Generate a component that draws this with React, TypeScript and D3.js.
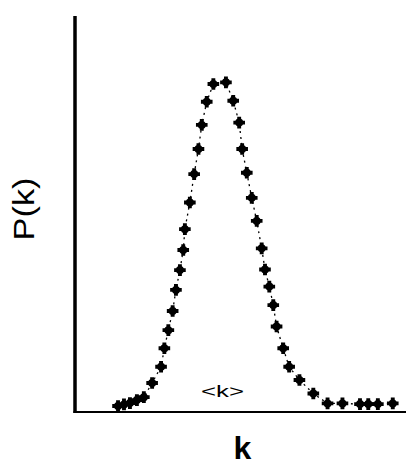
import { useEffect, useRef } from 'react';
import * as d3 from 'd3';

// k values (arbitrary units, axis runs 0..100)
const kValues = [
  13.0, 14.8, 16.6, 18.7, 20.8, 23.3, 26.0, 27.0, 28.2, 29.5, 30.5, 31.7, 32.7,
  33.2, 34.7, 36.0, 37.3, 38.3, 39.8, 41.8, 45.6, 47.8, 49.6, 50.5, 51.9, 53.4,
  54.9, 56.4, 57.4, 58.7, 59.9, 60.9, 62.9, 64.7, 67.8, 72.0, 76.3, 80.8, 86.1,
  88.6, 91.5, 96.0,
];

// P(k) values (normalised so the peak is ~1)
const pValues = [
  0.018, 0.023, 0.027, 0.036, 0.045, 0.088, 0.137, 0.193, 0.248, 0.306, 0.37,
  0.43, 0.491, 0.554, 0.635, 0.721, 0.797, 0.87, 0.94, 0.994, 0.999, 0.943,
  0.877, 0.797, 0.725, 0.649, 0.579, 0.496, 0.432, 0.38, 0.324, 0.259, 0.193,
  0.137, 0.097, 0.056, 0.026, 0.026, 0.024, 0.024, 0.024, 0.026,
];

const xLabel = 'k';
const yLabel = 'P(k)';
const meanLabel = '<k>';

const Chart = () => {
  const svgRef = useRef<SVGSVGElement>(null);

  useEffect(() => {
    const width = 406;
    const height = 467;
    const svg = d3.select(svgRef.current);
    svg.selectAll('*').remove();
    svg.attr('width', width).attr('height', height);

    svg.append('rect').attr('width', width).attr('height', height).attr('fill', '#fff');

    const x = d3.scaleLinear().domain([0, 100]).range([75, 406]);
    const y = d3.scaleLinear().domain([0, 1.2]).range([412, 16]);

    const data = kValues.map((k, i) => ({ k, p: pValues[i] }));

    // axes (plain lines, no tick labels)
    svg.append('line')
      .attr('x1', x(0)).attr('x2', x(0))
      .attr('y1', y(1.2)).attr('y2', y(0) + 1)
      .attr('stroke', '#000').attr('stroke-width', 3.5);
    svg.append('line')
      .attr('x1', x(0) - 1.5).attr('x2', width)
      .attr('y1', y(0)).attr('y2', y(0))
      .attr('stroke', '#000').attr('stroke-width', 2);

    // dotted connecting line
    const line = d3.line<{ k: number; p: number }>()
      .x(d => x(d.k))
      .y(d => y(d.p));
    svg.append('path')
      .datum(data)
      .attr('d', line)
      .attr('fill', 'none')
      .attr('stroke', '#000')
      .attr('stroke-width', 1.3)
      .attr('stroke-dasharray', '2,4');

    // markers: blob + cross
    const cross = d3.symbol().type(d3.symbolCross).size(75);
    const pts = svg.append('g')
      .selectAll('g')
      .data(data)
      .enter().append('g')
      .attr('transform', d => `translate(${x(d.k)},${y(d.p)})`);
    pts.append('path').attr('d', cross()).attr('fill', '#000');
    pts.append('circle').attr('r', 4).attr('fill', '#000');

    // labels
    svg.append('text')
      .attr('x', 222.5)
      .attr('y', 397)
      .attr('text-anchor', 'middle')
      .attr('textLength', 43)
      .attr('lengthAdjust', 'spacingAndGlyphs')
      .style('font-family', 'Liberation Sans, Arial, sans-serif')
      .style('font-size', '16px')
      .text(meanLabel);

    svg.append('text')
      .attr('x', 242.5)
      .attr('y', 459)
      .attr('text-anchor', 'middle')
      .style('font-family', 'Liberation Sans, Arial, sans-serif')
      .style('font-weight', 'bold')
      .style('font-size', '32px')
      .text(xLabel);

    svg.append('text')
      .attr('transform', 'translate(34,209) rotate(-90)')
      .attr('text-anchor', 'middle')
      .attr('textLength', 63)
      .attr('lengthAdjust', 'spacingAndGlyphs')
      .style('font-family', 'Liberation Sans, Arial, sans-serif')
      .style('font-size', '29px')
      .text(yLabel);
  }, []);

  return <svg ref={svgRef} style={{ position: 'absolute', left: 0, top: 0 }}></svg>;
};

export default function App() {
  return <Chart />;
}
